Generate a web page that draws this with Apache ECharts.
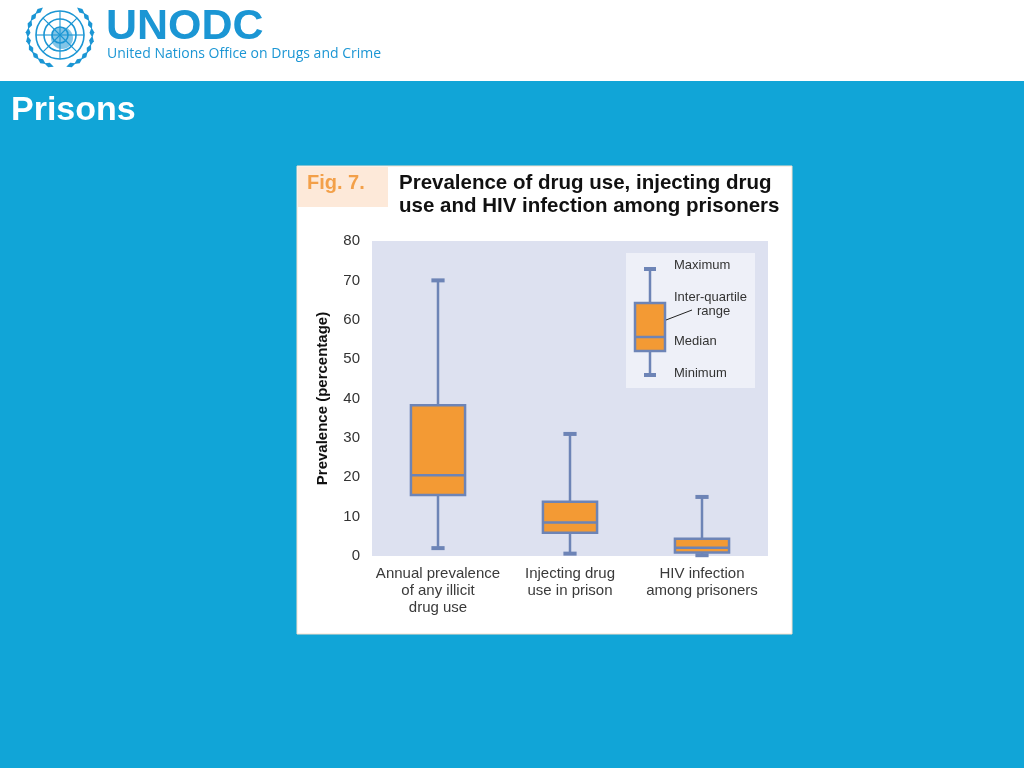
<!DOCTYPE html>
<html><head><meta charset="utf-8">
<script src="https://cdn.jsdelivr.net/npm/echarts@6/dist/echarts.min.js"></script>
<style>html,body{margin:0;padding:0;background:#fff}#c{width:1024px;height:768px}</style>
</head><body><div id="c"></div>
<script>
// ---- data ----
var categories = ['Annual prevalence\nof any illicit\ndrug use', 'Injecting drug\nuse in prison', 'HIV infection\namong prisoners'];
var minimum = [2, 0.6, 0.2];
var q1 = [15.5, 5.9, 0.9];
var median = [20.5, 8.5, 2.1];
var q3 = [38.3, 13.8, 4.4];
var maximum = [70, 31, 15];
var yTicks = [0, 10, 20, 30, 40, 50, 60, 70, 80];

var boxData = categories.map(function (c, i) {
  return [i, minimum[i], q1[i], median[i], q3[i], maximum[i]];
});

var BOX = '#f39a34', EDGE = '#6d84b6', BLUE = '#11a5d7', LOGO = '#1b96d4';
var font = '"Liberation Sans Narrow", "Liberation Sans", Arial, sans-serif';

var chart = echarts.init(document.getElementById('c'), null, {renderer: 'canvas'});

// emblem (decorative logo)
var emblem = [];
var cx = 60, cy = 35;
[8, 16, 24].forEach(function (r) {
  emblem.push({type: 'circle', shape: {cx: cx, cy: cy, r: r}, style: {fill: 'none', stroke: LOGO, lineWidth: 1.6}});
});
for (var a = 0; a < 8; a++) {
  var ang = a * Math.PI / 4;
  emblem.push({type: 'line', shape: {x1: cx, y1: cy, x2: cx + 24 * Math.cos(ang), y2: cy + 24 * Math.sin(ang)}, style: {stroke: LOGO, lineWidth: 1.1}});
}
emblem.push({type: 'circle', shape: {cx: cx + 2, cy: cy + 3, r: 11}, style: {fill: LOGO, opacity: 0.55}});
for (var k = 0; k < 9; k++) {
  var phi = 0.35 + k * 0.26;
  [1, -1].forEach(function (s) {
    var R = 32;
    var px = cx + s * R * Math.sin(phi), py = cy + R * Math.cos(phi);
    var tx = s * Math.cos(phi), ty = -Math.sin(phi);
    var nx = -ty, ny = tx;
    var L = 5, W = 2.4;
    emblem.push({type: 'polygon', shape: {points: [
      [px - tx * L, py - ty * L], [px + nx * W, py + ny * W], [px + tx * L, py + ty * L], [px - nx * W, py - ny * W]
    ]}, style: {fill: LOGO}});
  });
}

chart.setOption({
  animation: false,
  grid: {left: 372, top: 241, width: 396, height: 315, show: true, backgroundColor: '#dde1f0', borderWidth: 0},
  xAxis: {
    type: 'category', data: categories,
    axisLine: {show: false}, axisTick: {show: false},
    axisLabel: {color: '#3a3a3a', fontFamily: font, fontSize: 15, lineHeight: 17, margin: 9, interval: 0}
  },
  yAxis: {
    type: 'value', min: 0, max: 80, interval: 10,
    name: 'Prevalence (percentage)', nameLocation: 'middle', nameGap: 42,
    nameTextStyle: {color: '#111', fontFamily: font, fontWeight: 'bold', fontSize: 15},
    axisLine: {show: false}, axisTick: {show: false}, splitLine: {show: false},
    axisLabel: {color: '#333', fontFamily: font, fontSize: 15, margin: 12,
      formatter: function (v) { return yTicks.indexOf(v) >= 0 ? String(v) : ''; }}
  },
  series: [{
    type: 'custom',
    data: boxData,
    encode: {x: 0, y: [1, 2, 3, 4, 5]},
    renderItem: function (params, api) {
      var i = api.value(0);
      var band = api.size([1, 0])[0];
      var bw = band * 0.41, cw = band * 0.1;
      var pMin = api.coord([i, api.value(1)]);
      var pQ1 = api.coord([i, api.value(2)]);
      var pMed = api.coord([i, api.value(3)]);
      var pQ3 = api.coord([i, api.value(4)]);
      var pMax = api.coord([i, api.value(5)]);
      var x = pMin[0];
      return {type: 'group', children: [
        {type: 'line', shape: {x1: x, y1: pMax[1], x2: x, y2: pQ3[1]}, style: {stroke: EDGE, lineWidth: 2.5}},
        {type: 'line', shape: {x1: x, y1: pQ1[1], x2: x, y2: pMin[1]}, style: {stroke: EDGE, lineWidth: 2.5}},
        {type: 'line', shape: {x1: x - cw / 2, y1: pMax[1], x2: x + cw / 2, y2: pMax[1]}, style: {stroke: EDGE, lineWidth: 4}},
        {type: 'line', shape: {x1: x - cw / 2, y1: pMin[1], x2: x + cw / 2, y2: pMin[1]}, style: {stroke: EDGE, lineWidth: 4}},
        {type: 'rect', shape: {x: x - bw / 2, y: pQ3[1], width: bw, height: pQ1[1] - pQ3[1]}, style: {fill: BOX, stroke: EDGE, lineWidth: 2.5}},
        {type: 'line', shape: {x1: x - bw / 2, y1: pMed[1], x2: x + bw / 2, y2: pMed[1]}, style: {stroke: EDGE, lineWidth: 2.5}}
      ]};
    }
  }],
  graphic: [
    {type: 'rect', z: -10, shape: {x: 0, y: 81, width: 1024, height: 687}, style: {fill: BLUE}},
    {type: 'rect', z: -10, shape: {x: 0, y: 0, width: 1024, height: 81}, style: {fill: '#fff'}},
    {type: 'group', z: -5, children: emblem},
    {type: 'text', z: -5, left: 106, top: 6, style: {text: 'UNODC', fill: LOGO, font: 'bold 43px "Liberation Sans", Arial, sans-serif'}},
    {type: 'text', z: -5, left: 107, top: 47, style: {text: 'United Nations Office on Drugs and Crime', fill: LOGO, font: '14px "Open Sans", "Liberation Sans", sans-serif'}},
    {type: 'text', z: -5, left: 11, top: 94, style: {text: 'Prisons', fill: '#fff', font: 'bold 34px "Liberation Sans", Arial, sans-serif'}},
    {type: 'rect', z: -9, shape: {x: 297, y: 166, width: 495, height: 468}, style: {fill: '#fff', stroke: '#f7e0cc', lineWidth: 1}},
    {type: 'rect', z: -8, shape: {x: 298, y: 167, width: 90, height: 40}, style: {fill: '#fde9d9'}},
    {type: 'text', z: -5, left: 307, top: 173, style: {text: 'Fig. 7.', fill: '#f3a049', font: 'bold 20px "Liberation Sans", Arial, sans-serif'}},
    {type: 'text', z: -5, left: 399, top: 172, style: {text: 'Prevalence of drug use, injecting drug\nuse and HIV infection among prisoners', fill: '#111', lineHeight: 23, font: 'bold 20.5px "Liberation Sans", Arial, sans-serif'}},
    // legend key
    {type: 'group', z: 10, children: [
      {type: 'rect', shape: {x: 626, y: 253, width: 129, height: 135}, style: {fill: '#eef0f8'}},
      {type: 'line', shape: {x1: 650, y1: 269, x2: 650, y2: 303}, style: {stroke: EDGE, lineWidth: 2.5}},
      {type: 'line', shape: {x1: 650, y1: 351, x2: 650, y2: 375}, style: {stroke: EDGE, lineWidth: 2.5}},
      {type: 'line', shape: {x1: 644, y1: 269, x2: 656, y2: 269}, style: {stroke: EDGE, lineWidth: 4}},
      {type: 'line', shape: {x1: 644, y1: 375, x2: 656, y2: 375}, style: {stroke: EDGE, lineWidth: 4}},
      {type: 'rect', shape: {x: 635, y: 303, width: 30, height: 48}, style: {fill: BOX, stroke: EDGE, lineWidth: 2.5}},
      {type: 'line', shape: {x1: 635, y1: 337, x2: 665, y2: 337}, style: {stroke: EDGE, lineWidth: 2.5}},
      {type: 'line', shape: {x1: 666, y1: 320, x2: 692, y2: 310}, style: {stroke: '#222', lineWidth: 1}},
      {type: 'text', left: 674, top: 259, style: {text: 'Maximum', fill: '#333', font: '13px ' + font}},
      {type: 'text', left: 674, top: 291, style: {text: 'Inter-quartile', fill: '#333', font: '13px ' + font}},
      {type: 'text', left: 697, top: 305, style: {text: 'range', fill: '#333', font: '13px ' + font}},
      {type: 'text', left: 674, top: 335, style: {text: 'Median', fill: '#333', font: '13px ' + font}},
      {type: 'text', left: 674, top: 367, style: {text: 'Minimum', fill: '#333', font: '13px ' + font}}
    ]}
  ]
});
</script></body></html>
